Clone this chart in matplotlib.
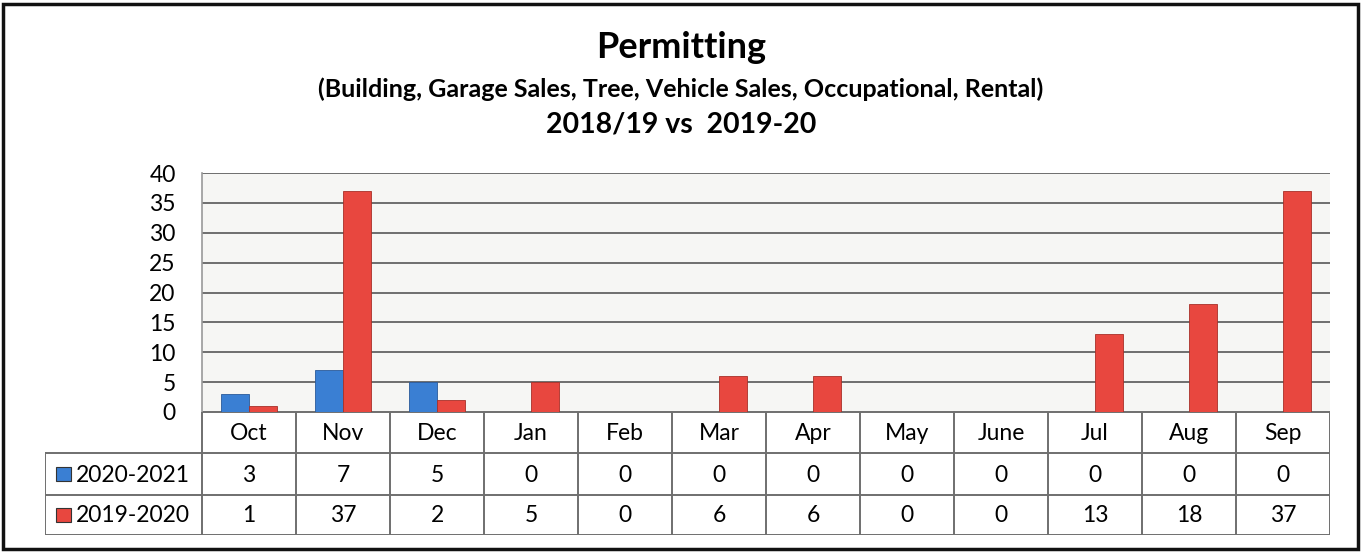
import matplotlib.pyplot as plt
from matplotlib.patches import Rectangle

months = ["Oct", "Nov", "Dec", "Jan", "Feb", "Mar", "Apr", "May", "June", "Jul", "Aug", "Sep"]
series_names = ["2020-2021", "2019-2020"]
values_2020_2021 = [3, 7, 5, 0, 0, 0, 0, 0, 0, 0, 0, 0]
values_2019_2020 = [1, 37, 2, 5, 0, 6, 6, 0, 0, 13, 18, 37]
colors = ["#3a7fd3", "#e8473f"]
yticks = [0, 5, 10, 15, 20, 25, 30, 35, 40]

plt.rcParams["font.family"] = ["Lato", "DejaVu Sans"]

W, H = 1362, 552
fig = plt.figure(figsize=(W / 100, H / 100), dpi=100)


def px_axes(left, top, right, bottom):
    return fig.add_axes([left / W, 1 - bottom / H, (right - left) / W, (bottom - top) / H])


# titles
fig.text(0.5, 1 - 48 / H, "Permitting", ha="center", va="center", fontsize=26, fontweight="bold")
fig.text(0.5, 1 - 89 / H, "(Building, Garage Sales, Tree, Vehicle Sales, Occupational, Rental)",
         ha="center", va="center", fontsize=18, fontweight="bold")
fig.text(0.5, 1 - 125 / H, "2018/19 vs  2019-20", ha="center", va="center", fontsize=20.5, fontweight="bold")

# bar area
plot_left, plot_top, plot_right, plot_bottom = 202, 173, 1330, 412
ax = px_axes(plot_left, plot_top, plot_right, plot_bottom)
ax.set_facecolor("#f6f6f4")
x = list(range(len(months)))
w = 0.3
ax.bar([i - w / 2 for i in x], values_2020_2021, w, color=colors[0], edgecolor="#2a5a9a", linewidth=0.6, zorder=3)
ax.bar([i + w / 2 for i in x], values_2019_2020, w, color=colors[1], edgecolor="#a83028", linewidth=0.6, zorder=3)
ax.set_xlim(-0.5, len(months) - 0.5)
ax.set_ylim(0, 40)
ax.set_yticks(yticks)
ax.set_yticklabels([str(t) for t in yticks], fontsize=16.5)
ax.yaxis.grid(True, color="#6e6e6e", linewidth=1.4, zorder=0)
ax.set_xticks([])
ax.tick_params(axis="y", length=0, pad=19)
for s in ["top", "right", "bottom"]:
    ax.spines[s].set_visible(False)
ax.spines["left"].set_color("#999999")
ax.spines["left"].set_linewidth(1.2)

# data table
t_left, t_top, t_right, t_bottom = 45, 412, plot_right, 535
tax = px_axes(t_left, t_top, t_right, t_bottom)
tax.set_xlim(t_left, t_right)
tax.set_ylim(t_bottom, t_top)
tax.axis("off")
col_w = (plot_right - plot_left) / len(months)
rows_y = [412, 453, 495, 535]
lc, lw = "#6f6f6f", 1.4
tax.plot([plot_left, plot_right], [rows_y[0], rows_y[0]], color=lc, lw=lw)
for yy in rows_y[1:]:
    tax.plot([t_left, plot_right], [yy, yy], color=lc, lw=lw)
for k in range(len(months) + 1):
    xx = plot_left + k * col_w
    tax.plot([xx, xx], [rows_y[0], rows_y[-1]], color=lc, lw=lw)
tax.plot([t_left, t_left], [rows_y[1], rows_y[-1]], color=lc, lw=lw)

for k, m in enumerate(months):
    cx = plot_left + (k + 0.5) * col_w
    tax.text(cx, (rows_y[0] + rows_y[1]) / 2 + 1, m, ha="center", va="center", fontsize=16.5)
    for r, vals in enumerate([values_2020_2021, values_2019_2020]):
        tax.text(cx, (rows_y[r + 1] + rows_y[r + 2]) / 2 + 1, str(vals[k]), ha="center", va="center",
                 fontsize=16.5)

for r, name in enumerate(series_names):
    cy = (rows_y[r + 1] + rows_y[r + 2]) / 2
    tax.add_patch(Rectangle((56, cy - 7), 15, 14, facecolor=colors[r], edgecolor="#333333", lw=0.8))
    tax.text(76, cy + 1, name, ha="left", va="center", fontsize=16.5)

# outer frame
fig.add_artist(Rectangle((3 / W, 3 / H), (W - 7) / W, (H - 7) / H, transform=fig.transFigure,
                         fill=False, edgecolor="#111111", linewidth=2.5))

fig.savefig("out.png", dpi=100, facecolor="white")
